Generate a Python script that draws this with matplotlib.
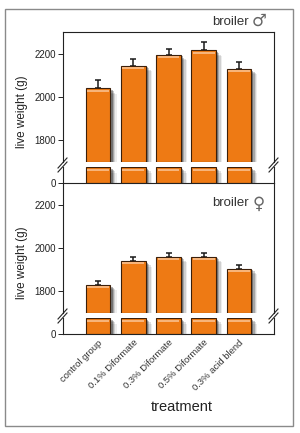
import numpy as np
import matplotlib.pyplot as plt
import matplotlib.patheffects as pe
from matplotlib.lines import Line2D
from matplotlib.patches import Rectangle

plt.rcParams['font.family'] = ['Liberation Sans', 'DejaVu Sans']

treatments = ['control group', '0.1% Diformate', '0.3% Diformate',
              '0.5% Diformate', '0.3% acid blend']
male_weight = [2040, 2145, 2195, 2215, 2130]
male_err = [40, 32, 28, 40, 33]
female_weight = [1830, 1940, 1960, 1960, 1905]
female_err = [20, 17, 18, 15, 15]
yticks = [1800, 2000, 2200]

BAR = '#EE7A14'
EDGE = '#3b1f0a'
HIGHLIGHT = '#F7B47A'
shadow = [pe.SimplePatchShadow(offset=(4.5, -4), shadow_rgbFace='k', alpha=0.07),
          pe.SimplePatchShadow(offset=(3.5, -3), shadow_rgbFace='k', alpha=0.12),
          pe.SimplePatchShadow(offset=(2.5, -2), shadow_rgbFace='k', alpha=0.2),
          pe.SimplePatchShadow(offset=(1.5, -1.2), shadow_rgbFace='k', alpha=0.3),
          pe.Normal()]

W, H = 300, 433
fig = plt.figure(figsize=(3, 4.33), dpi=100)


def frac(x0, y_top, x1, y_bot):
    # pixel box -> figure fraction rect
    return [x0 / W, 1 - y_bot / H, (x1 - x0) / W, (y_bot - y_top) / H]


fig.patches.append(Rectangle((5 / W, 1 - 426 / H), 288 / W, 417 / H,
                             transform=fig.transFigure, fill=False,
                             edgecolor='#8a8a8a', lw=1.0))

x = np.arange(len(treatments))


def draw_panel(top, values, errs, top_spine):
    ax = fig.add_axes(frac(63, top, 274, top + 130))
    stub = fig.add_axes(frac(63, top + 135, 274, top + 151))
    for a in (ax, stub):
        a.set_xlim(-1, len(treatments))
        a.patch.set_alpha(0)
        a.tick_params(axis='y', length=3.5, width=0.7, labelsize=7, pad=1.5,
                      colors='#222222')
        a.set_xticks([])
        for s in a.spines.values():
            s.set_linewidth(0.8)
            s.set_color('#222222')
    ax.spines['bottom'].set_visible(False)
    ax.spines['top'].set_visible(top_spine)
    stub.spines['top'].set_visible(False)

    ax.set_ylim(1700, 2300)
    ax.set_yticks(yticks)
    bars = ax.bar(x, np.array(values) - 1700, 0.7, bottom=1700, color=BAR,
                  edgecolor=EDGE, linewidth=0.8, zorder=2)
    for b in bars:
        b.set_path_effects(shadow)
    ax.bar(x, 10, 0.62, bottom=np.array(values) - 16, color=HIGHLIGHT,
           linewidth=0, zorder=3)
    ax.errorbar(x, values, yerr=[np.zeros(len(errs)), errs], fmt='none',
                ecolor='#1a1a1a', elinewidth=1.1, capsize=2.2, capthick=1.1,
                zorder=1)

    stub.set_ylim(0, 1)
    stub.set_yticks([0])
    sb = stub.bar(x, 1, 0.7, color=BAR, edgecolor=EDGE, linewidth=0.8, zorder=2)
    for b in sb:
        b.set_path_effects(shadow)
    stub.bar(x, 0.15, 0.62, bottom=0.72, color=HIGHLIGHT, linewidth=0, zorder=3)

    # break marks on both spines
    for xp in (63, 274):
        for dy in (0, 4):
            yb = top + 140 - dy
            fig.add_artist(Line2D([(xp - 5) / W, (xp + 4) / W],
                                  [1 - yb / H, 1 - (yb - 10) / H],
                                  transform=fig.transFigure, color='#222222',
                                  lw=0.8))

    fig.text(22 / W, 1 - (top + 80) / H, 'live weight (g)', rotation=90,
             ha='center', va='center', fontsize=8.5, color='#222222')
    return ax, stub


ax_m, stub_m = draw_panel(32, male_weight, male_err, True)
fig.text(249 / W, 1 - 22 / H, 'broiler', ha='right', va='center',
         fontsize=9.5, color='#333333')
fig.text(252 / W, 1 - 21 / H, '♂', ha='left', va='center', fontsize=12,
         color='#666666', family=['DejaVu Sans'])

ax_f, stub_f = draw_panel(183, female_weight, female_err, False)
fig.text(249 / W, 1 - 203 / H, 'broiler', ha='right', va='center',
         fontsize=9.5, color='#333333')
fig.text(253 / W, 1 - 204 / H, '♀', ha='left', va='center', fontsize=12,
         color='#666666', family=['DejaVu Sans'])

stub_f.set_xticks(x)
stub_f.set_xticklabels(treatments, rotation=45, ha='right',
                       rotation_mode='anchor', fontsize=6.8, color='#333333')
stub_f.tick_params(axis='x', length=0, pad=3)

fig.text(182 / W, 1 - 407 / H, 'treatment', ha='center', va='center',
         fontsize=10.5, color='#222222')

fig.savefig('out.png', dpi=100)
